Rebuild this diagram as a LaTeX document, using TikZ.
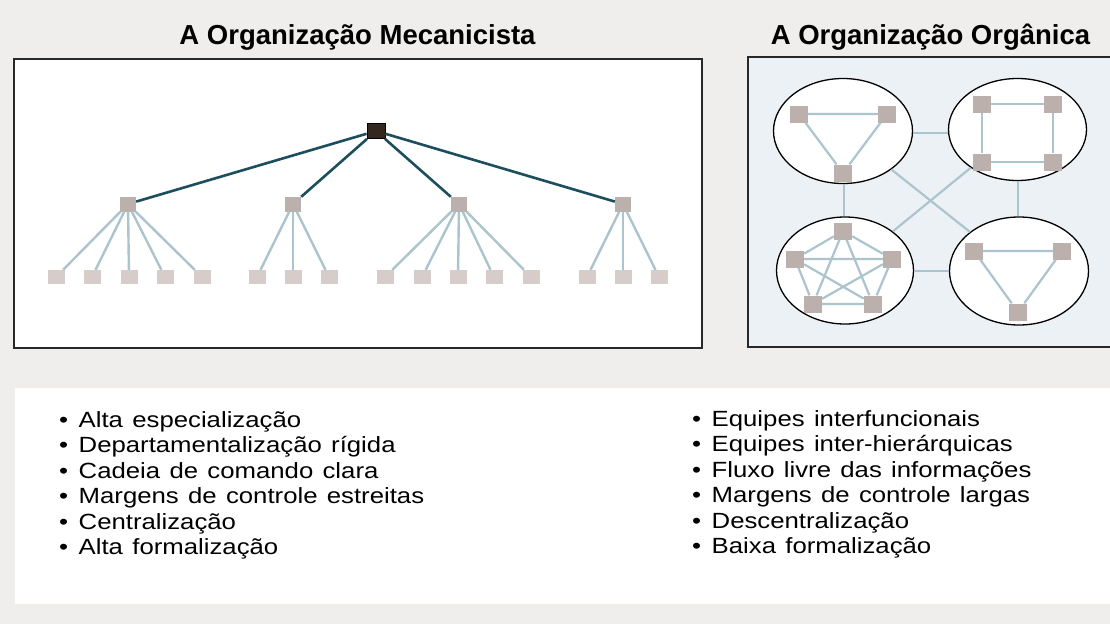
\documentclass[tikz,border=0pt]{standalone}
\usepackage{fontspec}
\setmainfont{Liberation Sans}
\newfontfamily\listfont{Liberation Sans}[FakeStretch=1.17,WordSpace=1.3]
\usetikzlibrary{shapes.geometric}
\definecolor{pagebg}{RGB}{240,238,237}
\definecolor{rightbg}{RGB}{236,241,245}
\definecolor{sqfill}{RGB}{188,176,172}
\definecolor{leaffill}{RGB}{214,205,202}
\definecolor{topfill}{RGB}{52,40,30}
\definecolor{teal}{RGB}{28,78,94}
\definecolor{lightln}{RGB}{172,196,206}
\definecolor{boxln}{RGB}{40,40,40}
\tikzset{
  topsq/.style={draw=black, line width=0.8pt, fill=topfill, minimum width=18pt, minimum height=15pt, inner sep=0pt},
  midsq/.style={fill=sqfill, minimum width=16pt, minimum height=15pt, inner sep=0pt},
  leafsq/.style={fill=leaffill, minimum width=17pt, minimum height=14pt, inner sep=0pt},
  orgsq/.style={fill=sqfill, minimum width=18pt, minimum height=17pt, inner sep=0pt},
  cell/.style={ellipse, draw=black, line width=1.3pt, fill=white, inner sep=0pt},
  hline/.style={draw=teal, line width=2.6pt},
  lline/.style={draw=lightln, line width=2.4pt},
  oline/.style={draw=lightln, line width=2.2pt},
  titletext/.style={font=\fontsize{27.5}{30}\selectfont\bfseries, anchor=base, inner sep=0pt},
  listtext/.style={font=\listfont\fontsize{22}{25}\selectfont, anchor=base west, inner sep=0pt},
}
\newcommand{\bul}{•\hspace{10.5pt}}
\begin{document}
\begin{tikzpicture}[x=1pt,y=-1pt]
\useasboundingbox (0,0) rectangle (1110,624);
\fill[pagebg] (0,0) rectangle (1110,624);
\fill[white] (15,388) rectangle (1110,604);

% titles
\node[titletext] (t1) at (357.5,44) {A Organização Mecanicista};
\node[titletext] (t2) at (930.5,44) {A Organização Orgânica};

% panels
\draw[boxln, line width=1.3pt, fill=white] (14,59) rectangle (702,348);
\fill[rightbg] (748,57) rectangle (1110,347);
\draw[boxln, line width=1.3pt] (1112,57) -- (748,57) -- (748,347) -- (1112,347);

% hierarchy
\node[topsq] (T) at (376,131) {};
\foreach \n/\x in {L1/128,L2/293,L3/459,L4/623}
  \node[midsq] (\n) at (\x,204) {};
\foreach \n/\x in {a1/56,a2/92,a3/129,a4/165,a5/202,
                   b1/257,b2/293,b3/329,
                   c1/385,c2/422,c3/458,c4/494,c5/531,
                   d1/587,d2/623,d3/659}
  \node[leafsq] (\n) at (\x,277) {};
\foreach \m in {L1,L2,L3,L4}
  \draw[hline] (T) -- (\m);
\foreach \l in {a1,a2,a3,a4,a5} \draw[lline] (L1) -- (\l);
\foreach \l in {b1,b2,b3} \draw[lline] (L2) -- (\l);
\foreach \l in {c1,c2,c3,c4,c5} \draw[lline] (L3) -- (\l);
\foreach \l in {d1,d2,d3} \draw[lline] (L4) -- (\l);

% organic cells
\node[cell, minimum width=139pt, minimum height=105pt] (E1) at (843,131) {};
\node[cell, minimum width=138pt, minimum height=102pt] (E2) at (1017.5,129.5) {};
\node[cell, minimum width=137pt, minimum height=107pt] (E3) at (845,270.5) {};
\node[cell, minimum width=139pt, minimum height=108pt] (E4) at (1019,271) {};
\draw[oline] (E1.east |- 0,133) -- (E2.west |- 0,133);
\draw[oline] (E3.east |- 0,271) -- (E4.west |- 0,271);
\draw[oline] (E1.south -| 844,0) -- (E3.north -| 844,0);
\draw[oline] (E2.south -| 1018,0) -- (E4.north -| 1018,0);
\draw[oline] (E1) -- (E4);
\draw[oline] (E2) -- (E3);

% cell TL: triangle
\node[orgsq] (p1) at (799,114) {};
\node[orgsq] (p2) at (887,114) {};
\node[orgsq] (p3) at (843,173) {};
\draw[oline] (p1) -- (p2) (p1) -- (p3) (p2) -- (p3);
% cell TR: square
\node[orgsq] (q1) at (982,104) {};
\node[orgsq] (q2) at (1053,104) {};
\node[orgsq] (q3) at (982,162) {};
\node[orgsq] (q4) at (1053,162) {};
\draw[oline] (q1) -- (q2) (q2) -- (q4) (q4) -- (q3) (q3) -- (q1);
% cell BL: pentagon, all links
\node[orgsq] (r1) at (843,231) {};
\node[orgsq] (r2) at (795,259) {};
\node[orgsq] (r3) at (892,259) {};
\node[orgsq] (r4) at (813,304) {};
\node[orgsq] (r5) at (873,304) {};
\draw[oline] (r1) -- (r2) (r1) -- (r3) (r1) -- (r4) (r1) -- (r5)
             (r2) -- (r3) (r2) -- (r4) (r2) -- (r5)
             (r3) -- (r4) (r3) -- (r5) (r4) -- (r5);
% cell BR: triangle
\node[orgsq] (s1) at (974,251) {};
\node[orgsq] (s2) at (1062,251) {};
\node[orgsq] (s3) at (1018,312) {};
\draw[oline] (s1) -- (s2) (s1) -- (s3) (s2) -- (s3);

% lists
\node[listtext] (m1) at (59,427) {\bul Alta especialização};
\node[listtext] (m2) at (59,452.5) {\bul Departamentalização rígida};
\node[listtext] (m3) at (59,478) {\bul Cadeia de comando clara};
\node[listtext] (m4) at (59,503.5) {\bul Margens de controle estreitas};
\node[listtext] (m5) at (59,529) {\bul Centralização};
\node[listtext] (m6) at (59,554.5) {\bul Alta formalização};

\node[listtext] (o1) at (692,426) {\bul Equipes interfuncionais};
\node[listtext] (o2) at (692,451.5) {\bul Equipes inter-hierárquicas};
\node[listtext] (o3) at (692,477) {\bul Fluxo livre das informações};
\node[listtext] (o4) at (692,502.5) {\bul Margens de controle largas};
\node[listtext] (o5) at (692,528) {\bul Descentralização};
\node[listtext] (o6) at (692,553.5) {\bul Baixa formalização};
\end{tikzpicture}
\end{document}
